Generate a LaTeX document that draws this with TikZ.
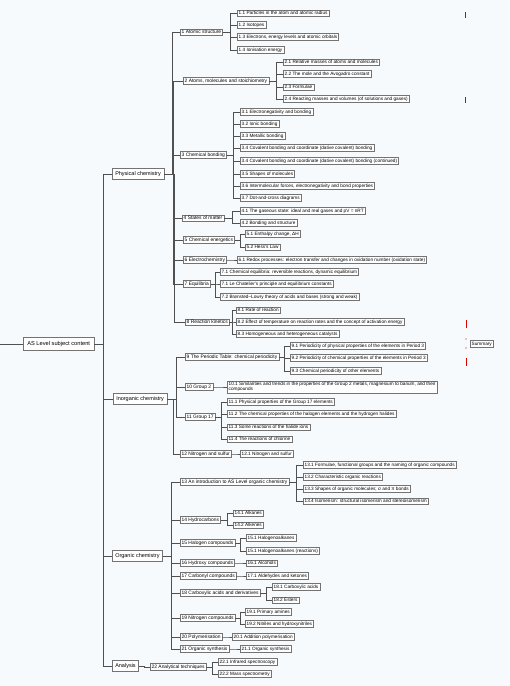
\documentclass[tikz,border=0pt]{standalone}
\usepackage{fontspec}
\setmainfont{Liberation Sans}
\usetikzlibrary{calc}
\definecolor{bgc}{RGB}{246,250,252}
\definecolor{linec}{RGB}{80,80,80}
\tikzset{
  box/.style={draw=black!55, line width=0.35pt, fill=white, anchor=west,
    inner xsep=1.5pt, inner ysep=1.3pt, text=black,
    font=\fontsize{4.7}{5.3}\selectfont},
  lvtwo/.style={box, font=\fontsize{4.9}{5.5}\selectfont},
  lvone/.style={box, line width=0.5pt, inner xsep=3pt, inner ysep=3pt,
    font=\fontsize{5.5}{6}\selectfont},
  rootbox/.style={box, line width=0.6pt, inner xsep=4pt, inner ysep=4pt,
    font=\fontsize{5.7}{6}\selectfont},
  conn/.style={draw=linec, line width=0.55pt},
  redmark/.style={draw=red!85!black, line width=0.9pt}
}
\newcommand\kids[2]{\foreach \c in {#2}{\draw[conn] (#1.east) -| ($(#1.east)!0.5!(\c.west)$) |- (\c.west);}}
\begin{document}
\begin{tikzpicture}[x=1pt,y=-1pt]
\fill[bgc] (0,0) rectangle (510,686);
\useasboundingbox (0,0) rectangle (510,686);

% root
\node[rootbox] (root) at (23,344) {AS Level subject content};
\coordinate (edge) at (0,344);
\draw[conn] (edge) -- (root.west);

% level 1
\node[lvone] (pc) at (112,174) {Physical chemistry};
\node[lvone] (ic) at (113,399) {Inorganic chemistry};
\node[lvone] (oc) at (112,556) {Organic chemistry};
\node[lvone] (an) at (112,666) {Analysis};

% Physical chemistry
\node[lvtwo] (a1) at (180,32) {1 Atomic structure};
\node[box] (a11) at (237,13) {1.1 Particles in the atom and atomic radius};
\node[box] (a12) at (237,25) {1.2 Isotopes};
\node[box] (a13) at (237,37) {1.3 Electrons, energy levels and atomic orbitals};
\node[box] (a14) at (237,50) {1.4 Ionisation energy};

\node[lvtwo] (a2) at (183,81) {2 Atoms, molecules and stoichiometry};
\node[box] (a21) at (283,62) {2.1 Relative masses of atoms and molecules};
\node[box] (a22) at (283,74) {2.2 The mole and the Avogadro constant};
\node[box] (a23) at (283,87) {2.3 Formulae};
\node[box] (a24) at (283,99) {2.4 Reacting masses and volumes (of solutions and gases)};

\node[lvtwo] (a3) at (180,155) {3 Chemical bonding};
\node[box] (a31) at (240,112) {3.1 Electronegativity and bonding};
\node[box] (a32) at (240,124) {3.2 Ionic bonding};
\node[box] (a33) at (240,136) {3.3 Metallic bonding};
\node[box] (a34) at (240,148) {3.4 Covalent bonding and coordinate (dative covalent) bonding};
\node[box] (a35) at (240,161) {3.4 Covalent bonding and coordinate (dative covalent) bonding (continued)};
\node[box] (a36) at (240,174) {3.5 Shapes of molecules};
\node[box] (a37) at (240,186) {3.6 Intermolecular forces, electronegativity and bond properties};
\node[box] (a38) at (240,198) {3.7 Dot-and-cross diagrams};

\node[lvtwo] (a4) at (182,218) {4 States of matter};
\node[box] (a41) at (240,211) {4.1 The gaseous state: ideal and real gases and pV = nRT};
\node[box] (a42) at (240,223) {4.2 Bonding and structure};

\node[lvtwo] (a5) at (183,240) {5 Chemical energetics};
\node[box] (a51) at (245,234) {5.1 Enthalpy change, ΔH};
\node[box] (a52) at (245,247) {5.2 Hess's Law};

\node[lvtwo] (a6) at (183,260) {6 Electrochemistry};
\node[box] (a61) at (237,260) {6.1 Redox processes: electron transfer and changes in oxidation number (oxidation state)};

\node[lvtwo] (a7) at (183,284) {7 Equilibria};
\node[box] (a71) at (220,272) {7.1 Chemical equilibria: reversible reactions, dynamic equilibrium};
\node[box] (a72) at (220,284) {7.1 Le Chatelier's principle and equilibrium constants};
\node[box] (a73) at (220,297) {7.2 Brønsted–Lowry theory of acids and bases (strong and weak)};

\node[lvtwo] (a8) at (185,322) {8 Reaction kinetics};
\node[box] (a81) at (236,310) {8.1 Rate of reaction};
\node[box] (a82) at (236,322) {8.2 Effect of temperature on reaction rates and the concept of activation energy};
\node[box] (a83) at (236,334) {8.3 Homogeneous and heterogeneous catalysts};

% Inorganic chemistry
\node[lvtwo] (b9) at (185,357) {9 The Periodic Table: chemical periodicity};
\node[box] (b91) at (290,346) {9.1 Periodicity of physical properties of the elements in Period 3};
\node[box] (b92) at (290,358) {9.2 Periodicity of chemical properties of the elements in Period 3};
\node[box] (b93) at (290,371) {9.3 Chemical periodicity of other elements};

\node[lvtwo] (b10) at (185,387) {10 Group 2};
\node[box, align=left] (b101) at (227,387) {10.1 Similarities and trends in the properties of the Group 2 metals, magnesium to barium, and their\\compounds};

\node[lvtwo] (b11) at (185,417) {11 Group 17};
\node[box] (b111) at (227,402) {11.1 Physical properties of the Group 17 elements};
\node[box] (b112) at (227,414) {11.2 The chemical properties of the halogen elements and the hydrogen halides};
\node[box] (b113) at (227,427) {11.3 Some reactions of the halide ions};
\node[box] (b114) at (227,439) {11.4 The reactions of chlorine};

\node[lvtwo] (b12) at (180,454) {12 Nitrogen and sulfur};
\node[box] (b121) at (240,454) {12.1 Nitrogen and sulfur};

% Organic chemistry
\node[lvtwo] (c13) at (180,482) {13 An introduction to AS Level organic chemistry};
\node[box] (c131) at (303,465) {13.1 Formulae, functional groups and the naming of organic compounds};
\node[box] (c132) at (303,477) {13.2 Characteristic organic reactions};
\node[box] (c133) at (303,489) {13.3 Shapes of organic molecules; σ and π bonds};
\node[box] (c134) at (303,501) {13.4 Isomerism: structural isomerism and stereoisomerism};

\node[lvtwo] (c14) at (180,520) {14 Hydrocarbons};
\node[box] (c141) at (233,513) {14.1 Alkanes};
\node[box] (c142) at (233,525) {14.2 Alkenes};

\node[lvtwo] (c15) at (180,543) {15 Halogen compounds};
\node[box] (c151) at (246,538) {15.1 Halogenoalkanes};
\node[box] (c152) at (246,551) {15.1 Halogenoalkanes (reactions)};

\node[lvtwo] (c16) at (180,563) {16 Hydroxy compounds};
\node[box] (c161) at (246,563) {16.1 Alcohols};

\node[lvtwo] (c17) at (180,576) {17 Carbonyl compounds};
\node[box] (c171) at (246,576) {17.1 Aldehydes and ketones};

\node[lvtwo] (c18) at (180,593) {18 Carboxylic acids and derivatives};
\node[box] (c181) at (272,587) {18.1 Carboxylic acids};
\node[box] (c182) at (272,600) {18.2 Esters};

\node[lvtwo] (c19) at (180,618) {19 Nitrogen compounds};
\node[box] (c191) at (245,612) {19.1 Primary amines};
\node[box] (c192) at (245,624) {19.2 Nitriles and hydroxynitriles};

\node[lvtwo] (c20) at (180,637) {20 Polymerisation};
\node[box] (c201) at (232,637) {20.1 Addition polymerisation};

\node[lvtwo] (c21) at (180,649) {21 Organic synthesis};
\node[box] (c211) at (240,649) {21.1 Organic synthesis};

% Analysis
\node[lvtwo] (d22) at (150,667) {22 Analytical techniques};
\node[box] (d221) at (218,662) {22.1 Infrared spectroscopy};
\node[box] (d222) at (218,674) {22.2 Mass spectrometry};

% summary box and red marks
\node[box] (sm) at (470,344) {Summary};
\draw[redmark] (465,12) -- (465,18);
\draw[redmark] (465,97) -- (465,103);
\draw[redmark] (466,320) -- (466,328);
\draw[redmark] (466,358) -- (466,366);
\fill[red!85!black] (466,339) circle (0.6);
\fill[red!85!black] (466,348) circle (0.6);

% connectors
\kids{root}{pc,ic,oc,an}
\kids{pc}{a1,a2,a3,a4,a5,a6,a7,a8}
\kids{ic}{b9,b10,b11,b12}
\kids{oc}{c13,c14,c15,c16,c17,c18,c19,c20,c21}
\kids{an}{d22}
\kids{a1}{a11,a12,a13,a14}
\kids{a2}{a21,a22,a23,a24}
\kids{a3}{a31,a32,a33,a34,a35,a36,a37,a38}
\kids{a4}{a41,a42}
\kids{a5}{a51,a52}
\kids{a6}{a61}
\kids{a7}{a71,a72,a73}
\kids{a8}{a81,a82,a83}
\kids{b9}{b91,b92,b93}
\kids{b10}{b101}
\kids{b11}{b111,b112,b113,b114}
\kids{b12}{b121}
\kids{c13}{c131,c132,c133,c134}
\kids{c14}{c141,c142}
\kids{c15}{c151,c152}
\kids{c16}{c161}
\kids{c17}{c171}
\kids{c18}{c181,c182}
\kids{c19}{c191,c192}
\kids{c20}{c201}
\kids{c21}{c211}
\kids{d22}{d221,d222}
\end{tikzpicture}
\end{document}
